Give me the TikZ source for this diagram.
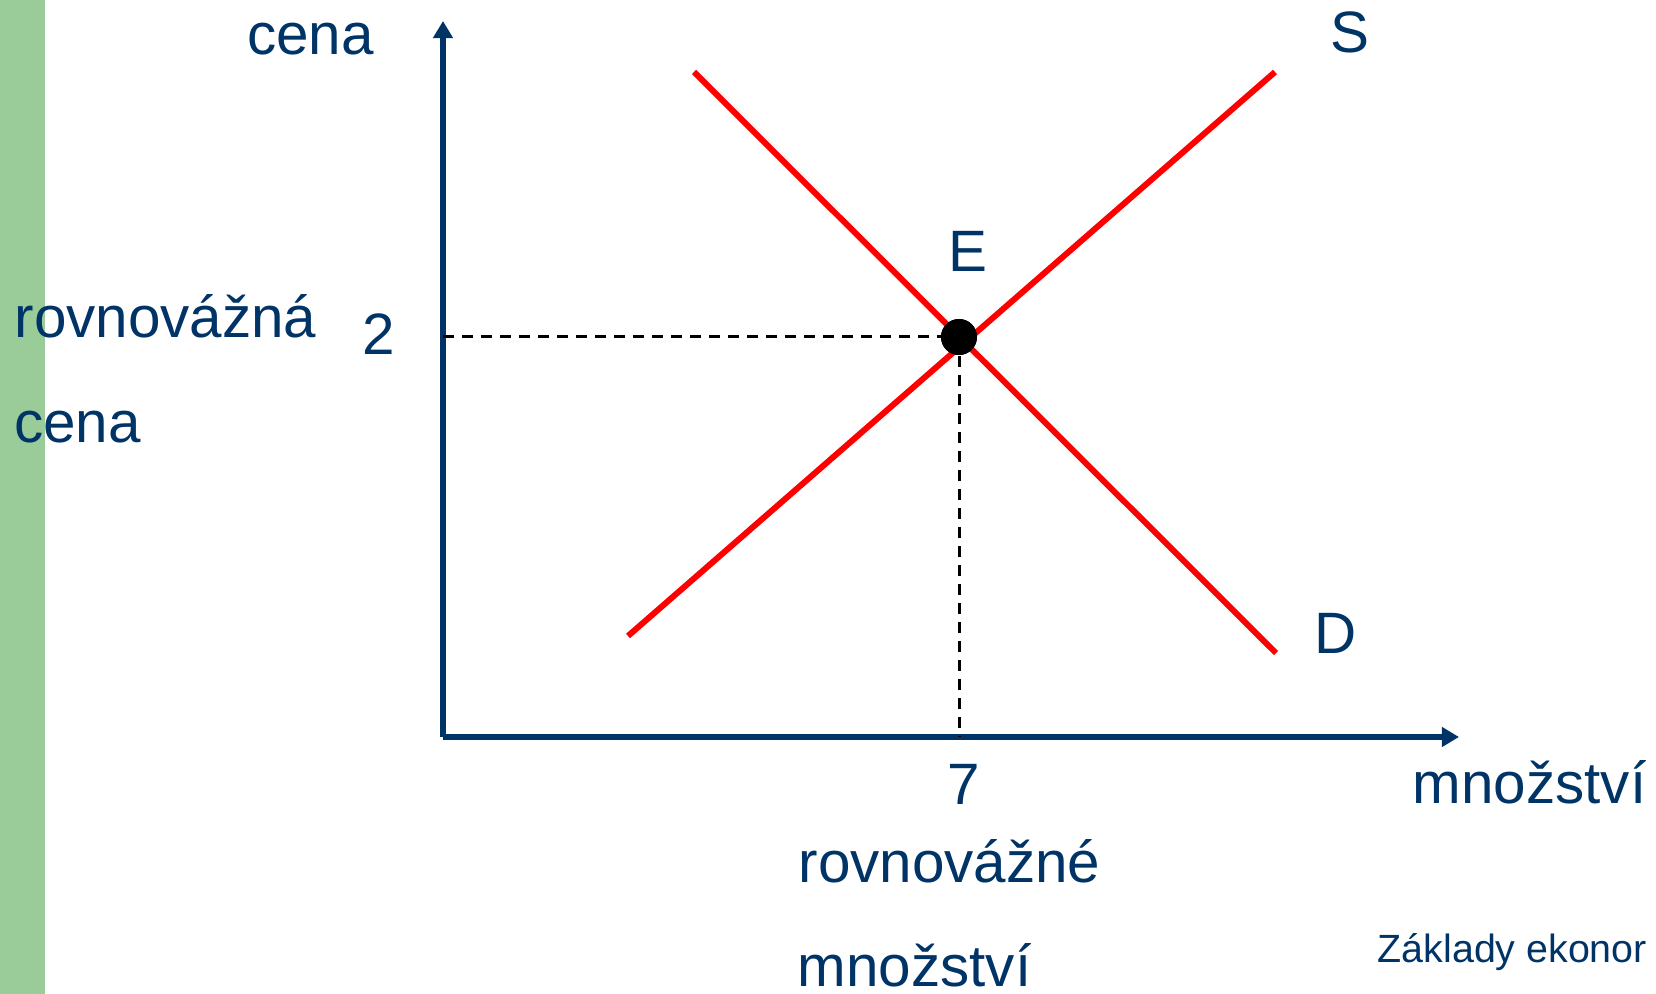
\documentclass[tikz,border=0pt]{standalone}
\usepackage{fontspec}
\setmainfont{Liberation Sans}
\usepackage{tikz}
\usetikzlibrary{arrows.meta}
\usetikzlibrary{positioning}

\definecolor{navy}{RGB}{0,51,102}
\definecolor{barGreen}{RGB}{153,204,153}

\begin{document}
\begin{tikzpicture}[x=0.01cm, y=-0.01cm,
    every node/.style={inner sep=0pt, text=navy, anchor=base, font=\fontsize{16.6}{20}\selectfont},
    axis/.style={navy, line width=0.06cm, -{Triangle[length=0.17cm, width=0.19cm]}},
    curve/.style={red, line width=0.06cm},
    guide/.style={black, line width=0.03cm, dash pattern=on 0.11cm off 0.08cm}]
    \useasboundingbox (0,0) rectangle (1656,994);
    \fill[barGreen] (0,0) rectangle (45,994);

    \coordinate (O) at (443,737);
    \coordinate (ytip) at (443,21);
    \coordinate (xtip) at (1459,737);
    \coordinate (d1) at (694,72);
    \coordinate (d2) at (1276,653);
    \coordinate (s1) at (628,636);
    \coordinate (s2) at (1275,72);
    \coordinate (p2) at (443,337);
    \coordinate (q7) at (959,737);

    \draw[axis] (O) -- (ytip);
    \draw[axis] (O) -- (xtip);
    \draw[curve] (d1) -- (d2);
    \draw[curve] (s1) -- (s2);

    \node (eq) [circle, fill=black, minimum size=0.36cm, anchor=center] at (959,337) {};
    \draw[guide] (p2) -- (eq.center);
    \draw[guide] (eq.center) -- (q7);
    \fill[black] (eq) circle (0.18cm);

    \node (cenaY) at (310.5,55) {cena};
    \node (eqPrice) at (165.5,338) {rovnovážná};
    \node (eqPrice2) at (77.5,443) {cena};
    \node (two) at (379,355) {2};
    \node (labE) at (967.5,272) {E};
    \node (labS) at (1350,53) {S};
    \node (labD) at (1335.5,654) {D};
    \node (seven) at (963.5,805) {7};
    \node (mnX) at (1529.5,804) {množství};
    \node (eqQty) at (949.5,883) {rovnovážné};
    \node (eqQty2) at (914.5,986) {množství};
    \node (footer) [anchor=base west, font=\fontsize{11.2}{13}\selectfont] at (1377,962) {Základy ekonor};
\end{tikzpicture}
\end{document}
